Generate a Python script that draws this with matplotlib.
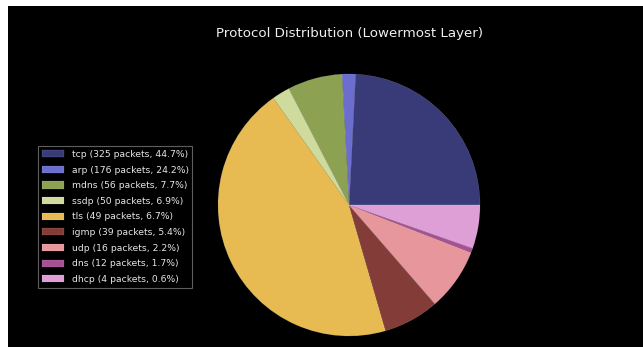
import numpy as np
import matplotlib
matplotlib.use("Agg")
import matplotlib.pyplot as plt
from matplotlib.patches import Rectangle

# Packet counts per protocol, in the order they were captured
protocols = ["arp", "dns", "tls", "udp", "tcp", "ssdp", "mdns", "dhcp", "igmp"]
packets = [176, 12, 49, 16, 325, 50, 56, 4, 39]

# Legend entries, ranked by packet count
ranked_protocols = ["tcp", "arp", "mdns", "ssdp", "tls", "igmp", "udp", "dns", "dhcp"]
ranked_packets = [325, 176, 56, 50, 49, 39, 16, 12, 4]

title = "Protocol Distribution (Lowermost Layer)"

W, H = 643, 347
fig = plt.figure(figsize=(W / 100, H / 100), dpi=100, facecolor="white")
fig.patches.append(Rectangle((8 / W, 0), 1 - 8 / W, 1 - 6 / H,
                             transform=fig.transFigure, facecolor="black",
                             edgecolor="none", zorder=-10))

cx, cy, r = 349, 205, 131
ax = fig.add_axes([(cx - r) / W, (H - cy - r) / H, 2 * r / W, 2 * r / H])
ax.set_facecolor("none")

colors = plt.cm.tab20b(np.linspace(0, 1, len(packets)))
wedges, _ = ax.pie(packets, colors=colors, startangle=0, counterclock=True,
                   wedgeprops=dict(linewidth=0.3, edgecolor=(1, 1, 1, 0.25)))
ax.set_xlim(-1, 1)
ax.set_ylim(-1, 1)
ax.set_aspect("equal")
ax.axis("off")

total = sum(ranked_packets)
labels = [f"{p} ({n} packets, {100 * n / total:.1f}%)"
          for p, n in zip(ranked_protocols, ranked_packets)]

fig.text(cx / W, 1 - 33 / H, title, ha="center", va="center",
         color="#f0f0f0", fontsize=9.6, family="DejaVu Sans")

leg = fig.legend(wedges, labels, loc="center left",
                 bbox_to_anchor=(38 / W, 1 - 217 / H),
                 fontsize=6.7, frameon=True, facecolor="black",
                 edgecolor="#777777", labelcolor="#e6e6e6",
                 handlelength=2.4, handleheight=0.8, labelspacing=0.71,
                 borderpad=0.4, handletextpad=0.8, borderaxespad=0,
                 fancybox=False)
leg.get_frame().set_linewidth(0.8)

fig.savefig("out.png", dpi=100, facecolor="white")
